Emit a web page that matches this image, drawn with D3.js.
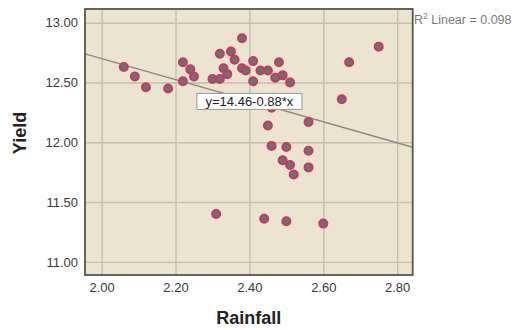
<!DOCTYPE html>
<html>
<head>
<meta charset="utf-8">
<script src="https://cdn.jsdelivr.net/npm/d3@7"></script>
<style>
  body { margin: 0; background: #fff; }
  text { font-family: "Liberation Sans", Arial, sans-serif; }
</style>
</head>
<body>
<div id="chart"></div>
<script>
var rainfall = [2.06, 2.09, 2.12, 2.18, 2.22, 2.22, 2.24, 2.25, 2.30, 2.32,
  2.32, 2.35, 2.36, 2.33, 2.34, 2.38, 2.38, 2.39, 2.41, 2.41,
  2.43, 2.45, 2.47, 2.49, 2.48, 2.51, 2.67, 2.75, 2.65, 2.56,
  2.45, 2.46, 2.50, 2.56, 2.49, 2.51, 2.52, 2.56, 2.31, 2.44,
  2.50, 2.60, 2.46];
var yieldVals = [12.63, 12.55, 12.46, 12.45, 12.67, 12.51, 12.61, 12.55, 12.53, 12.53,
  12.74, 12.76, 12.69, 12.62, 12.57, 12.87, 12.62, 12.60, 12.68, 12.51,
  12.60, 12.60, 12.54, 12.56, 12.67, 12.50, 12.67, 12.80, 12.36, 12.17,
  12.14, 11.97, 11.96, 11.93, 11.85, 11.81, 11.73, 11.79, 11.40, 11.36,
  11.34, 11.32, 12.29];

// Axis ticks
var xTicks = [2.0, 2.2, 2.4, 2.6, 2.8];
var yTicks = [11.0, 11.5, 12.0, 12.5, 13.0];

// Linear fit
var fit = [14.46, -0.88];   // intercept, slope
var rSquared = 0.098;

var svgWidth = 516;
var svgHeight = 330;

var plot = { left: 85, top: 9, right: 412.7, bottom: 275 };
var plotW = plot.right - plot.left;
var plotH = plot.bottom - plot.top;

var svg = d3.select("#chart")
  .append("svg")
  .attr("width", svgWidth)
  .attr("height", svgHeight);

var xScale = d3.scaleLinear()
  .domain([1.955, 2.842])
  .range([plot.left, plot.right]);

var yScale = d3.scaleLinear()
  .domain([10.89, 13.115])
  .range([plot.bottom, plot.top]);

// Plot background
svg.append("rect")
  .attr("x", plot.left)
  .attr("y", plot.top)
  .attr("width", plotW)
  .attr("height", plotH)
  .attr("fill", "#ece4cf");

// Axes with gridlines
var xAxis = svg.append("g")
  .attr("transform", `translate(0, ${plot.bottom})`)
  .call(d3.axisBottom(xScale)
    .tickValues(xTicks)
    .tickFormat(d3.format(".2f"))
    .tickSizeInner(-plotH)
    .tickSizeOuter(0)
    .tickPadding(8));

var yAxis = svg.append("g")
  .attr("transform", `translate(${plot.left}, 0)`)
  .call(d3.axisLeft(yScale)
    .tickValues(yTicks)
    .tickFormat(d3.format(".2f"))
    .tickSizeInner(-plotW)
    .tickSizeOuter(0)
    .tickPadding(7));

[xAxis, yAxis].forEach(function(ax) {
  ax.select(".domain").remove();
  ax.selectAll(".tick line")
    .attr("stroke", "#c6beae")
    .attr("stroke-width", 1.4);
  ax.selectAll(".tick text")
    .attr("fill", "#3a3a3a")
    .attr("font-size", 13);
});

// Regression line
var xd = xScale.domain();
svg.append("line")
  .attr("x1", xScale(xd[0]))
  .attr("y1", yScale(fit[0] + fit[1] * xd[0]))
  .attr("x2", xScale(xd[1]))
  .attr("y2", yScale(fit[0] + fit[1] * xd[1]))
  .attr("stroke", "#8c8c84")
  .attr("stroke-width", 1.5);

// Points
var points = rainfall.map(function(r, i) { return { x: r, y: yieldVals[i] }; });

svg.append("g")
  .selectAll("circle")
  .data(points)
  .enter()
  .append("circle")
  .attr("cx", d => xScale(d.x))
  .attr("cy", d => yScale(d.y))
  .attr("r", 4)
  .attr("fill", "#707074")
  .attr("stroke", "#c63a60")
  .attr("stroke-width", 2);

// Equation label
var eqLabel = svg.append("g")
  .attr("transform", `translate(${xScale(2.40)}, ${yScale(12.342)})`);

eqLabel.append("rect")
  .attr("x", -52.5)
  .attr("y", -8)
  .attr("width", 105)
  .attr("height", 16)
  .attr("fill", "#ffffff")
  .attr("stroke", "#9a9a9a")
  .attr("stroke-width", 1);

eqLabel.append("text")
  .attr("x", 0)
  .attr("y", 4.5)
  .attr("text-anchor", "middle")
  .attr("font-size", 13)
  .attr("fill", "#222")
  .text(`y=${fit[0].toFixed(2)}${fit[1].toFixed(2)}*x`);

// Plot border
svg.append("rect")
  .attr("x", plot.left)
  .attr("y", plot.top)
  .attr("width", plotW)
  .attr("height", plotH)
  .attr("fill", "none")
  .attr("stroke", "#56564e")
  .attr("stroke-width", 1.8);

// R squared note
var r2 = svg.append("text")
  .attr("x", 414)
  .attr("y", 24)
  .attr("font-size", 12.5)
  .attr("fill", "#7a7a7a");
r2.append("tspan").text("R");
r2.append("tspan").attr("dy", -5).attr("font-size", 8.5).text("2");
r2.append("tspan").attr("dy", 5).text(` Linear = ${rSquared.toFixed(3)}`);

// Axis titles
svg.append("text")
  .attr("x", (plot.left + plot.right) / 2)
  .attr("y", 324)
  .attr("text-anchor", "middle")
  .attr("font-size", 18)
  .attr("font-weight", "bold")
  .attr("fill", "#222")
  .text("Rainfall");

svg.append("text")
  .attr("transform", "translate(26, 133) rotate(-90)")
  .attr("text-anchor", "middle")
  .attr("font-size", 18)
  .attr("font-weight", "bold")
  .attr("fill", "#222")
  .text("Yield");
</script>
</body>
</html>
